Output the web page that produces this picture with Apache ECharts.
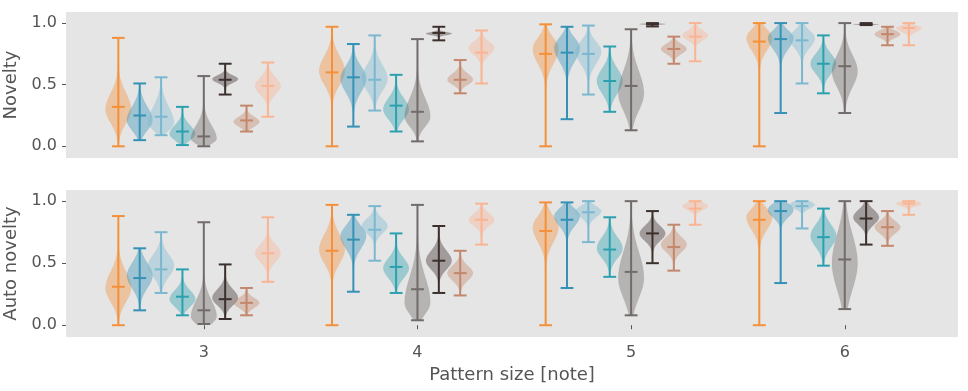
<!DOCTYPE html>
<html>
<head>
<meta charset="utf-8">
<script src="https://cdn.jsdelivr.net/npm/echarts@6/dist/echarts.min.js"></script>
<style>
html, body { margin: 0; background: #fff; }
#chart { width: 968px; height: 391px; }
</style>
</head>
<body>
<div id="chart"></div>
<script>
// pattern sizes and the offset of each violin inside a group
var groups = [3, 4, 5, 6];
var offsets = [-0.4, -0.3, -0.2, -0.1, 0, 0.1, 0.2, 0.3];
var colors = ['#f4903a', '#3592b6', '#7bb8cf', '#2ba1b0', '#716b69', '#3b302c', '#c2876c', '#f9b593'];
var yTicks = [0, 0.5, 1];

// one row per pattern size: [min, mean, max, density peak, spread below, spread above]
var novOrange = [[0.0, 0.32, 0.88, 0.30, 0.11, 0.13], [0.0, 0.60, 0.97, 0.61, 0.11, 0.12], [0.0, 0.75, 0.99, 0.79, 0.12, 0.09], [0.0, 0.85, 1.0, 0.88, 0.10, 0.07]];
var novDarkBlue = [[0.05, 0.25, 0.51, 0.21, 0.08, 0.11], [0.16, 0.56, 0.83, 0.55, 0.11, 0.10], [0.22, 0.76, 0.97, 0.80, 0.11, 0.08], [0.27, 0.87, 1.0, 0.88, 0.09, 0.06]];
var novLightBlue = [[0.09, 0.24, 0.56, 0.19, 0.06, 0.13], [0.29, 0.54, 0.90, 0.55, 0.10, 0.11], [0.42, 0.75, 0.98, 0.77, 0.10, 0.08], [0.51, 0.86, 1.0, 0.88, 0.08, 0.06]];
var novTeal = [[0.01, 0.12, 0.32, 0.10, 0.05, 0.07], [0.12, 0.33, 0.58, 0.30, 0.08, 0.09], [0.28, 0.53, 0.81, 0.53, 0.10, 0.10], [0.43, 0.67, 0.90, 0.67, 0.08, 0.08]];
var novGray = [[0.0, 0.08, 0.57, 0.06, 0.04, 0.11], [0.04, 0.28, 0.87, 0.24, 0.08, 0.15], [0.13, 0.49, 0.95, 0.43, 0.14, 0.18], [0.27, 0.65, 1.0, 0.61, 0.13, 0.13]];
var novBlack = [[0.42, 0.54, 0.67, 0.545, 0.03, 0.03], [0.86, 0.92, 0.97, 0.915, 0.012, 0.012], [0.973, 0.99, 1.0, 0.992, 0.004, 0.004], [0.984, 0.99, 1.0, 0.99, 0.003, 0.003]];
var novBrown = [[0.12, 0.21, 0.33, 0.20, 0.04, 0.04], [0.43, 0.54, 0.70, 0.54, 0.04, 0.05], [0.67, 0.79, 0.89, 0.79, 0.04, 0.04], [0.82, 0.91, 0.97, 0.91, 0.03, 0.03]];
var novPeach = [[0.24, 0.49, 0.68, 0.49, 0.07, 0.07], [0.51, 0.76, 0.94, 0.80, 0.06, 0.05], [0.69, 0.89, 1.0, 0.90, 0.04, 0.04], [0.82, 0.96, 1.0, 0.96, 0.03, 0.02]];

var autoOrange = [[0.0, 0.31, 0.88, 0.30, 0.11, 0.13], [0.0, 0.60, 0.97, 0.61, 0.11, 0.12], [0.0, 0.76, 0.99, 0.79, 0.12, 0.09], [0.0, 0.85, 1.0, 0.87, 0.10, 0.07]];
var autoDarkBlue = [[0.12, 0.38, 0.62, 0.40, 0.10, 0.10], [0.27, 0.69, 0.89, 0.72, 0.10, 0.08], [0.30, 0.85, 0.99, 0.88, 0.08, 0.06], [0.34, 0.92, 1.0, 0.93, 0.06, 0.05]];
var autoLightBlue = [[0.26, 0.45, 0.75, 0.48, 0.09, 0.09], [0.52, 0.77, 0.96, 0.80, 0.06, 0.06], [0.67, 0.91, 1.0, 0.92, 0.05, 0.04], [0.78, 0.96, 1.0, 0.97, 0.03, 0.03]];
var autoTeal = [[0.08, 0.23, 0.45, 0.21, 0.06, 0.07], [0.26, 0.47, 0.74, 0.46, 0.08, 0.08], [0.39, 0.61, 0.87, 0.62, 0.08, 0.09], [0.48, 0.71, 0.94, 0.72, 0.09, 0.09]];
var autoGray = [[0.01, 0.12, 0.83, 0.07, 0.06, 0.13], [0.04, 0.29, 0.97, 0.18, 0.09, 0.21], [0.08, 0.43, 1.0, 0.38, 0.16, 0.21], [0.13, 0.53, 1.0, 0.50, 0.21, 0.23]];
var autoBlack = [[0.05, 0.21, 0.49, 0.22, 0.06, 0.07], [0.26, 0.52, 0.80, 0.52, 0.07, 0.08], [0.50, 0.74, 0.92, 0.74, 0.06, 0.06], [0.65, 0.86, 1.0, 0.87, 0.06, 0.06]];
var autoBrown = [[0.08, 0.18, 0.30, 0.18, 0.04, 0.04], [0.24, 0.42, 0.60, 0.42, 0.06, 0.06], [0.44, 0.63, 0.81, 0.65, 0.06, 0.06], [0.64, 0.79, 0.92, 0.79, 0.05, 0.05]];
var autoPeach = [[0.35, 0.58, 0.87, 0.58, 0.07, 0.07], [0.65, 0.85, 0.98, 0.85, 0.05, 0.05], [0.81, 0.94, 1.0, 0.96, 0.03, 0.03], [0.89, 0.98, 1.0, 0.98, 0.02, 0.02]];

var noveltySets = [novOrange, novDarkBlue, novLightBlue, novTeal, novGray, novBlack, novBrown, novPeach];
var autoSets = [autoOrange, autoDarkBlue, autoLightBlue, autoTeal, autoGray, autoBlack, autoBrown, autoPeach];

var halfWidth = 0.06;
var capHalf = 0.03;

function renderViolin(params, api) {
    var x = api.value(0);
    var lo = api.value(1), mid = api.value(2), hi = api.value(3);
    var pk = api.value(4), sLo = api.value(5), sHi = api.value(6);
    var color = api.visual('color');

    // violin outline
    var left = [], right = [];
    var n = 60;
    for (var i = 0; i <= n; i++) {
        var y = lo + (hi - lo) * i / n;
        var s = y < pk ? sLo : sHi;
        var w = halfWidth * Math.exp(-0.5 * Math.pow((y - pk) / s, 2));
        left.push(api.coord([x - w, y]));
        right.unshift(api.coord([x + w, y]));
    }
    var body = {
        type: 'polygon',
        shape: { points: left.concat(right) },
        style: { fill: color, opacity: 0.4, stroke: color, lineWidth: 0.5, strokeOpacity: 0.3 }
    };

    var lineStyle = { stroke: color, lineWidth: 2 };
    var p1 = api.coord([x, lo]), p2 = api.coord([x, hi]);
    var children = [body, {
        type: 'line',
        shape: { x1: p1[0], y1: p1[1], x2: p2[0], y2: p2[1] },
        style: lineStyle
    }];
    [lo, mid, hi].forEach(function (v) {
        var a = api.coord([x - capHalf, v]), b = api.coord([x + capHalf, v]);
        children.push({
            type: 'line',
            shape: { x1: a[0], y1: a[1], x2: b[0], y2: b[1] },
            style: lineStyle
        });
    });
    return { type: 'group', children: children };
}

function buildSeries(sets, axisIdx) {
    return sets.map(function (rows, k) {
        return {
            type: 'custom',
            xAxisIndex: axisIdx,
            yAxisIndex: axisIdx,
            color: colors[k],
            renderItem: renderViolin,
            data: rows.map(function (r, g) {
                return [groups[g] + offsets[k]].concat(r);
            }),
            silent: true
        };
    });
}

var textColor = '#555555';
var fontFamily = 'DejaVu Sans';

function yAxisFor(idx, name) {
    return {
        type: 'value',
        gridIndex: idx,
        min: -0.095,
        max: 1.09,
        name: name,
        nameLocation: 'middle',
        nameGap: 42,
        nameTextStyle: { color: textColor, fontSize: 18, fontFamily: fontFamily },
        axisLine: { show: false },
        axisTick: { show: true, length: 4, customValues: yTicks, lineStyle: { color: textColor } },
        axisLabel: {
            customValues: yTicks, color: textColor, fontSize: 16, fontFamily: fontFamily, margin: 9,
            formatter: function (v) { return v.toFixed(1); }
        },
        splitLine: { show: false }
    };
}

var chart = echarts.init(document.getElementById('chart'));
var option = {
    animation: false,
    grid: [
        { left: 66, top: 12, width: 892, height: 146, show: true, backgroundColor: '#e5e5e5', borderWidth: 0, outerBoundsMode: 'none' },
        { left: 66, top: 190, width: 892, height: 147, show: true, backgroundColor: '#e5e5e5', borderWidth: 0, outerBoundsMode: 'none' }
    ],
    xAxis: [
        {
            type: 'value', gridIndex: 0, min: 2.355, max: 6.53,
            axisLine: { show: false }, axisTick: { show: false }, axisLabel: { show: false }, splitLine: { show: false }
        },
        {
            type: 'value', gridIndex: 1, min: 2.355, max: 6.53,
            name: 'Pattern size [note]', nameLocation: 'middle', nameGap: 29,
            nameTextStyle: { color: textColor, fontSize: 18, fontFamily: fontFamily },
            axisLine: { show: false },
            axisTick: { show: true, length: 4, customValues: groups, lineStyle: { color: textColor } },
            axisLabel: { customValues: groups, color: textColor, fontSize: 16, fontFamily: fontFamily, margin: 8 },
            splitLine: { show: false }
        }
    ],
    yAxis: [yAxisFor(0, 'Novelty'), yAxisFor(1, 'Auto novelty')],
    series: buildSeries(noveltySets, 0).concat(buildSeries(autoSets, 1))
};
chart.setOption(option);
</script>
</body>
</html>
